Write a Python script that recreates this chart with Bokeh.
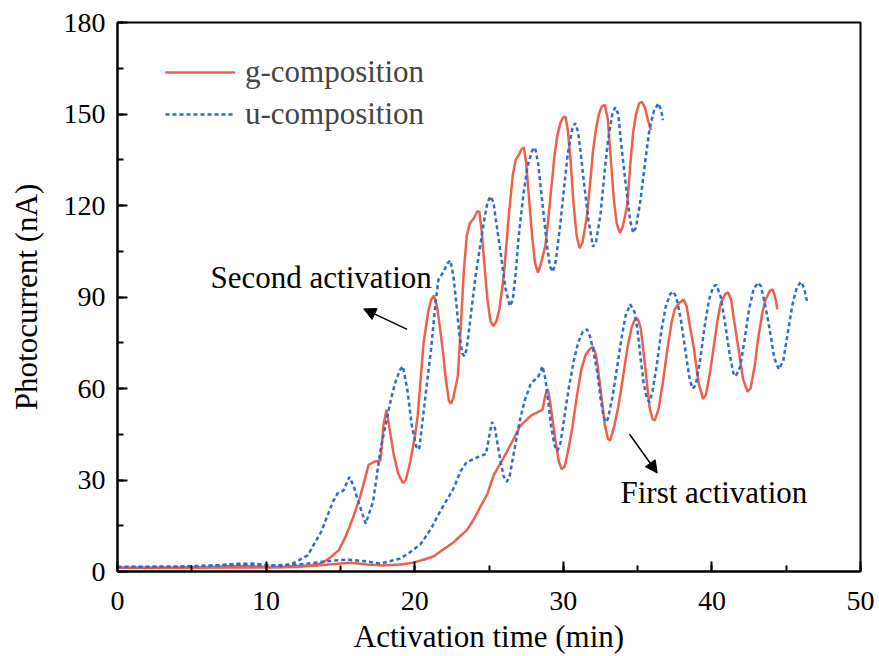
from bokeh.plotting import figure
from bokeh.models import (Range1d, SingleIntervalTicker, Legend, LegendItem,
                          Label, Arrow, NormalHead)
from bokeh.embed import file_html
from bokeh.resources import INLINE

# ---- data ----
g2_x = [0, 2, 4, 6, 8, 10, 11, 12, 13, 13.7, 14.3, 14.9, 15.4, 15.9, 16.3, 16.6, 16.9, 17.3, 17.7,
        17.9, 18.1, 18.3, 18.6, 18.9, 19.2, 19.4, 19.7, 20.0, 20.2, 20.6, 20.9, 21.1, 21.3, 21.5,
        21.7, 21.9, 22.1, 22.3, 22.45, 22.6, 22.9, 23.1, 23.3, 23.5, 23.7, 24.0, 24.2, 24.35, 24.5,
        24.7, 24.9, 25.1, 25.3, 25.5, 25.7, 26.0, 26.3, 26.6, 26.8, 27.0, 27.2, 27.35, 27.5, 27.7,
        27.9, 28.1, 28.3, 28.5, 28.8, 29.0, 29.2, 29.4, 29.6, 29.8, 30.0, 30.15, 30.3, 30.5, 30.7,
        30.9, 31.1, 31.3, 31.6, 31.8, 32.0, 32.2, 32.4, 32.6, 32.8, 33.0, 33.2, 33.4, 33.6, 33.8,
        34.0, 34.3, 34.5, 34.7, 34.9, 35.1, 35.3, 35.5, 35.7, 35.9]
g2_y = [1.2, 1.2, 1.3, 1.5, 1.8, 1.5, 1.5, 1.8, 2.0, 2.6, 4.5, 7, 12, 18.3, 24, 29.4, 35, 36, 36.5,
        48, 53, 47, 38, 32, 29, 30, 35.9, 44, 51, 75, 85, 89, 90.5, 87,
        80, 72, 63, 56, 55, 57, 64, 80, 98, 110, 114, 116, 118, 118, 112,
        100, 89, 82, 80.5, 82, 86, 97, 115, 130, 135, 136.5, 138.5, 139, 134, 122,
        110, 101, 98, 101, 107, 116, 126, 136, 143, 147, 149, 149, 145, 134, 120,
        110, 106, 108, 117, 127, 138, 145, 150, 152.5, 153, 148, 135, 122, 114, 111,
        113, 120, 133, 144, 150, 153.5, 154, 152, 148, 144.7]

u2_x = [0, 2, 4, 6, 8, 9, 10, 11, 11.8, 12.8, 13.7, 14.5, 14.8, 15.2, 15.6, 15.9, 16.2, 16.7, 17.2,
        17.7, 18.4, 18.7, 19.0, 19.2, 19.5, 19.8, 20.1, 20.3, 20.7, 21.1, 21.4, 21.6, 21.9, 22.2,
        22.4, 22.6, 22.8, 23.0, 23.2, 23.35, 23.5, 23.8, 24.1, 24.4, 24.7, 24.9, 25.1, 25.3, 25.5,
        25.8, 26.1, 26.4, 26.6, 26.8, 27.0, 27.3, 27.6, 27.9, 28.1, 28.3, 28.5, 28.7, 28.9, 29.1,
        29.3, 29.5, 29.8, 30.1, 30.3, 30.6, 30.8, 31.0, 31.2, 31.4, 31.7, 32.0, 32.2, 32.5, 32.8,
        33.0, 33.3, 33.5, 33.7, 33.9, 34.2, 34.5, 34.7, 34.9, 35.2, 35.5, 35.8, 36.1, 36.4, 36.6,
        36.7]
u2_y = [1.5, 1.5, 1.6, 1.8, 2.5, 2.6, 2.2, 1.8, 2.6, 5.3, 13, 22.9, 25.5, 26.5, 31, 28, 22.9, 15.7, 22.9,
        40, 56.5, 62, 66, 67.3, 59.8, 48, 41, 40, 56.5, 72.8, 88, 95.7, 98, 101,
        102, 97, 88, 78, 71.5, 70.6, 73, 85, 97, 106.5, 116, 121, 123, 121, 114,
        104, 93, 87, 89, 98, 110, 123, 133, 138, 139, 134, 125, 116, 107, 100,
        98.3, 102, 114, 128, 137, 145, 147, 144, 136, 127, 115, 106.5, 108, 117, 132,
        141, 150, 152.2, 150, 140, 127, 115, 111, 113, 122, 134, 145, 151, 153.5, 151,
        148]

g1_x = [0, 4, 8, 10, 12, 13.5, 15, 15.7, 16.8, 17.9, 19, 19.9, 20.7, 21.3, 21.7, 22.6, 23.1, 23.5,
        24.0, 24.4, 24.9, 25.3, 26.2, 27.1, 27.8, 28.3, 28.6, 28.8, 28.95, 29.1, 29.3, 29.5, 29.7,
        29.9, 30.1, 30.3, 30.6, 30.9, 31.2, 31.5, 31.8, 32.0, 32.2, 32.4, 32.6, 32.8, 33.0, 33.15,
        33.4, 33.7, 34.0, 34.3, 34.6, 34.8, 35.0, 35.2, 35.4, 35.6, 35.8, 36.0, 36.15, 36.4, 36.7,
        37.0, 37.3, 37.5, 37.8, 38.1, 38.3, 38.5, 38.8, 39.1, 39.4, 39.6, 39.9, 40.1, 40.4, 40.6,
        40.9, 41.1, 41.3, 41.5, 41.8, 42.1, 42.4, 42.6, 42.9, 43.1, 43.4, 43.6, 43.9, 44.1, 44.3,
        44.4]
g1_y = [1.2, 1.2, 1.3, 1.3, 1.5, 2, 2.6, 2.9, 2.3, 2, 2.3, 2.9, 4, 5, 6.5, 9.5, 11.8, 13.5,
        17.3, 21, 25.5, 31.4, 39.2, 47.7, 51, 52.3, 53, 58, 59.8, 56, 49, 42, 36,
        33.5, 34.5, 39, 47, 57, 66, 71, 73, 73.8, 71, 64, 56, 48, 43.5, 43,
        47, 54, 63, 73, 80, 82.5, 83, 80, 72, 63, 54, 50, 49.5, 53, 62,
        72.8, 82, 86, 88, 89.2, 87, 81, 72.8, 62, 56.5, 58, 66, 73, 83, 88,
        91, 91.5, 89, 82, 72.8, 63, 59, 60, 68, 76, 85, 89, 92, 92.5, 89,
        86]

u1_x = [0, 4, 8, 10, 12, 12.8, 14.5, 15.5, 16.8, 17.7, 19.0, 19.6, 20.4, 21.1, 21.7, 22.6, 23.1,
        23.5, 24.0, 24.4, 24.8, 25.0, 25.2, 25.4, 25.6, 25.8, 26.0, 26.2, 26.4, 26.6, 26.9, 27.1,
        27.4, 27.8, 28.1, 28.3, 28.5, 28.6, 28.8, 29.0, 29.2, 29.4, 29.6, 29.8, 30.0, 30.2, 30.4,
        30.7, 31.0, 31.3, 31.6, 31.8, 32.0, 32.3, 32.5, 32.7, 32.85, 33.0, 33.3, 33.6, 33.9, 34.2,
        34.5, 34.8, 35.0, 35.2, 35.4, 35.6, 35.8, 36.0, 36.3, 36.6, 36.9, 37.2, 37.4, 37.6, 37.9,
        38.2, 38.5, 38.7, 38.9, 39.2, 39.5, 39.8, 40.1, 40.3, 40.6, 40.9, 41.2, 41.45, 41.6, 41.9,
        42.2, 42.5, 42.8, 43.1, 43.3, 43.6, 43.9, 44.2, 44.5, 44.8, 45.1, 45.4, 45.7, 46.0, 46.2,
        46.4]
u1_y = [1.5, 1.6, 2.2, 2.0, 2.2, 2.6, 3.6, 3.9, 3.3, 2.6, 4.2, 6, 9, 14, 19.6, 27.1, 33,
        35.9, 36.9, 37.9, 38.5, 44, 49, 47, 41, 35.5, 31, 29.4, 31.5, 37, 45, 50,
        56, 61.4, 63, 63.7, 66, 67.3, 63, 55, 47, 41.5, 39.5, 42, 48, 55, 61,
        69, 75.1, 78.5, 79.4, 77, 73, 65, 57, 51, 49, 50, 57, 66.3, 76, 84,
        87.6, 85, 79, 70, 62, 57, 55.5, 59, 68, 79, 87, 91, 91.8, 90, 83,
        73, 63, 60, 61, 69, 80, 89, 93.5, 94, 90, 81, 71, 65, 64, 67,
        76, 86, 92.5, 94.7, 93.5, 87, 79, 70, 66.3, 69, 78, 87, 93, 95, 93,
        88.5]

x_label = "Activation time (min)"
y_label = "Photocurrent (nA)"
series_names = ["g-composition", "u-composition"]
notes = ["Second activation", "First activation"]

RED = "#ef604a"
BLUE = "#2a6cd4"
FONT = "Liberation Serif, Times New Roman, serif"

p = figure(width=875, height=656, output_backend="svg", toolbar_location=None,
           x_range=Range1d(0, 50), y_range=Range1d(0, 180),
           min_border_left=117, min_border_right=15, min_border_top=22, min_border_bottom=83)
p.background_fill_color = "white"
p.border_fill_color = "white"
p.grid.visible = False
p.outline_line_color = "black"
p.outline_line_width = 2
p.outline_line_alpha = 1

r_g2 = p.line(g2_x, g2_y, line_color=RED, line_width=2.5)
r_g1 = p.line(g1_x, g1_y, line_color=RED, line_width=2.5)
r_u2 = p.line(u2_x, u2_y, line_color=BLUE, line_width=2.5, line_dash="4 3")
r_u1 = p.line(u1_x, u1_y, line_color=BLUE, line_width=2.5, line_dash="4 3")

p.xaxis.ticker = SingleIntervalTicker(interval=10, num_minor_ticks=2)
p.yaxis.ticker = SingleIntervalTicker(interval=30, num_minor_ticks=2)
for ax in (p.xaxis[0], p.yaxis[0]):
    ax.axis_line_width = 2
    ax.axis_line_color = "black"
    ax.major_tick_in = 10
    ax.major_tick_out = 0
    ax.minor_tick_in = 6
    ax.minor_tick_out = 0
    ax.major_tick_line_width = 2
    ax.minor_tick_line_width = 2
    ax.major_label_text_font = FONT
    ax.major_label_text_font_size = "28px"
    ax.major_label_text_color = "black"
    ax.axis_label_text_font = FONT
    ax.axis_label_text_font_size = "31px"
    ax.axis_label_text_font_style = "normal"
    ax.axis_label_text_color = "black"
p.xaxis.axis_label = x_label
p.yaxis.axis_label = y_label
p.xaxis.major_label_standoff = 20
p.yaxis.major_label_standoff = 12
p.xaxis.axis_label_standoff = 6
p.yaxis.axis_label_standoff = 17

legend = Legend(items=[LegendItem(label=series_names[0], renderers=[r_g2]),
                       LegendItem(label=series_names[1], renderers=[r_u2])],
                location=(48, 439), orientation="vertical",
                glyph_width=70, glyph_height=20, label_standoff=10, spacing=6,
                padding=0, margin=0,
                label_text_font=FONT, label_text_font_size="31px",
                border_line_color=None, background_fill_alpha=0)
p.add_layout(legend)

p.add_layout(Label(x=6.26, y=96.4, text=notes[0], text_font=FONT, text_font_size="31px",
                   text_baseline="middle", text_color="black"))
p.add_layout(Label(x=33.85, y=25.8, text=notes[1], text_font=FONT, text_font_size="31px",
                   text_baseline="middle", text_color="black"))
p.add_layout(Arrow(x_start=19.49, y_start=79.4, x_end=16.57, y_end=86.1, line_width=1.5,
                   end=NormalHead(size=12, fill_color="black", line_color="black")))
p.add_layout(Arrow(x_start=34.45, y_start=45.1, x_end=36.32, y_end=32.3, line_width=1.5,
                   end=NormalHead(size=12, fill_color="black", line_color="black")))

open("out.html", "w").write(file_html(p, INLINE))
